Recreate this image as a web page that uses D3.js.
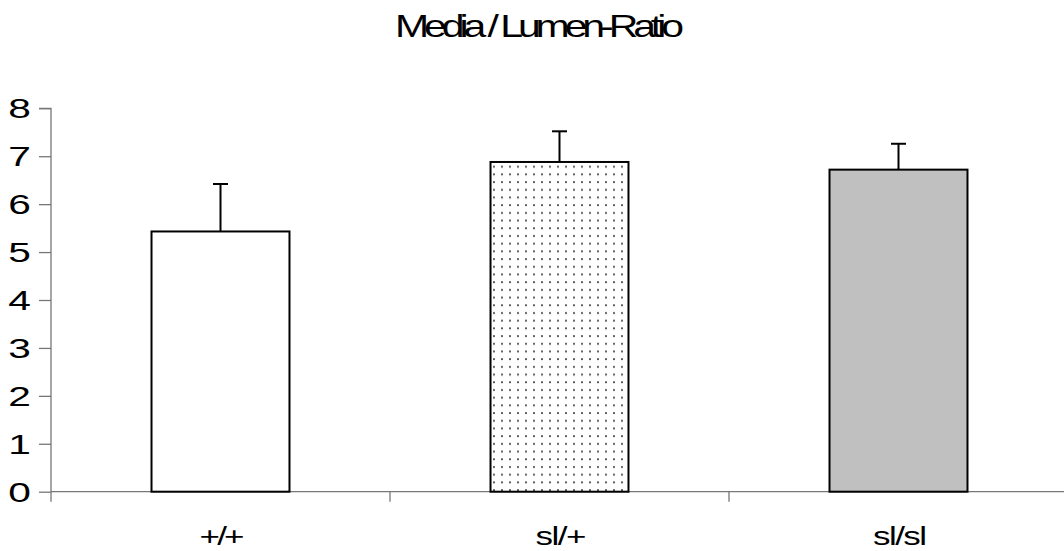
<!DOCTYPE html>
<html><head><meta charset="utf-8">
<script src="https://cdn.jsdelivr.net/npm/d3@7"></script>
<style>body{margin:0;background:#fff}svg{display:block}text{font-family:"Liberation Sans",Arial,sans-serif;fill:#000}</style>
</head><body><svg id="c" width="1064" height="551"></svg>
<script>
const title = "Media / Lumen-Ratio";
const categories = ["+/+", "sl/+", "sl/sl"];
const means = [5.43, 6.88, 6.72];
const errors = [0.99, 0.64, 0.54];
const yTicks = [0, 1, 2, 3, 4, 5, 6, 7, 8];

const svg = d3.select("#c");
const x = d3.scaleBand().domain(categories).range([51, 1068]).padding(0);
const y = d3.scaleLinear().domain([0, 8]).range([491.7, 108.3]);
const barFrac = 0.407;
const fills = ["#ffffff", "url(#dots)", "#c0c0c0"];

const defs = svg.append("defs");
const pat = defs.append("pattern").attr("id", "dots").attr("patternUnits", "userSpaceOnUse")
  .attr("width", 8).attr("height", 7.7).attr("x", 2).attr("y", 1);
pat.append("rect").attr("width", 8).attr("height", 7.7).attr("fill", "#fff");
pat.append("circle").attr("cx", 4).attr("cy", 4).attr("r", 1.0).attr("fill", "#444");

function stretchedText(g, str, tx, ty, size, sx, width, anchor) {
  const t = g.append("text")
    .attr("transform", `translate(${tx},${ty}) scale(${sx},1)`)
    .attr("font-size", size)
    .attr("text-anchor", anchor)
    .text(str);
  if (width) t.attr("textLength", width / sx).attr("lengthAdjust", "spacing");
  return t;
}

// title
stretchedText(svg, title, 539.5, 37, 31.5, 1.3, 289, "middle");

// y axis
const yAxis = d3.axisLeft(y).tickValues(yTicks).tickSize(12).tickFormat(d3.format("d"));
const yg = svg.append("g").attr("transform", "translate(51,0)").call(yAxis);
yg.select(".domain").attr("stroke", "#777").attr("stroke-width", 1.3).attr("d", `M-12,${y(8)}H0V${y(0)}`);
yg.selectAll(".tick line").attr("stroke", "#777").attr("stroke-width", 1.3);
yg.selectAll(".tick text").remove();
yTicks.forEach(v => {
  stretchedText(svg, String(v), 31, y(v) + 10, 27.5, 1.48, null, "end");
});

// x axis
const xg = svg.append("g").attr("transform", `translate(0,${y(0)})`);
xg.append("line").attr("x1", 51).attr("x2", 1068).attr("stroke", "#777").attr("stroke-width", 1.3);
const boundaries = categories.map(c => x(c)).concat([x.range()[1]]);
xg.selectAll("line.tk").data(boundaries).join("line").attr("class", "tk")
  .attr("x1", d => d).attr("x2", d => d).attr("y1", 0).attr("y2", 10)
  .attr("stroke", "#777").attr("stroke-width", 1.3);

const labelWidths = [45, 51, 54];
categories.forEach((c, i) => {
  stretchedText(svg, c, x(c) + x.bandwidth() / 2 + 1.5, 545, 25, 1.4, labelWidths[i], "middle");
});

// bars
const bw = x.bandwidth() * barFrac;
categories.forEach((c, i) => {
  const cx = x(c) + x.bandwidth() / 2;
  svg.append("line").attr("x1", cx).attr("x2", cx).attr("y1", y(means[i])).attr("y2", y(means[i] + errors[i]))
    .attr("stroke", "#000").attr("stroke-width", 2);
  svg.append("line").attr("x1", cx - 7.5).attr("x2", cx + 7.5).attr("y1", y(means[i] + errors[i])).attr("y2", y(means[i] + errors[i]))
    .attr("stroke", "#000").attr("stroke-width", 2);
  svg.append("rect").attr("x", cx - bw / 2).attr("y", y(means[i]))
    .attr("width", bw).attr("height", y(0) - y(means[i]))
    .attr("fill", fills[i]).attr("stroke", "#000").attr("stroke-width", 2);
});
</script></body></html>
